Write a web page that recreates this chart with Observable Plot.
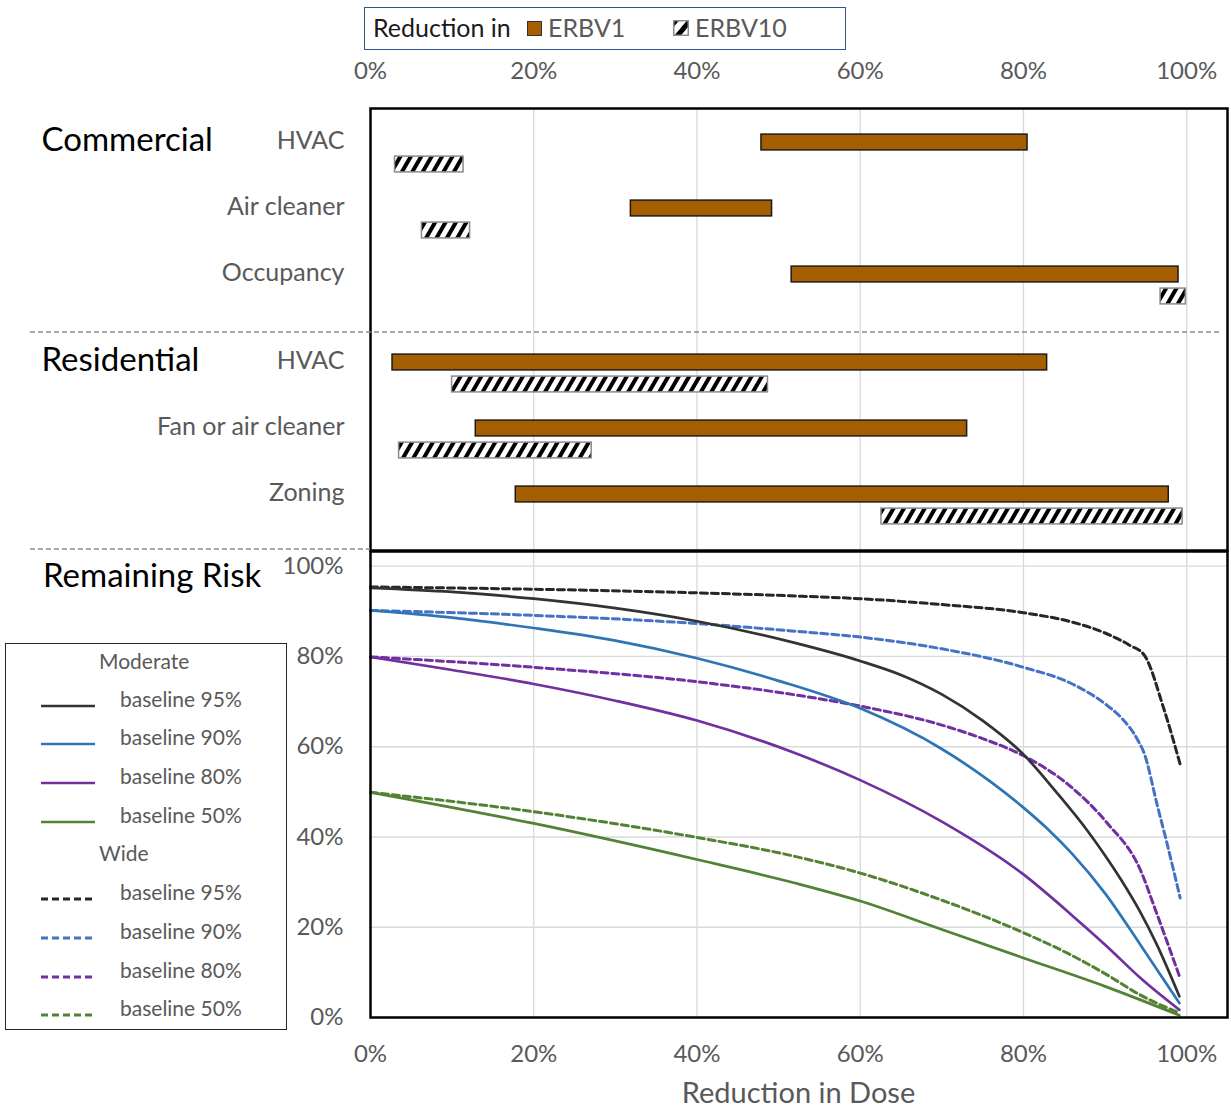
<!DOCTYPE html>
<html><head><meta charset="utf-8">
<script src="https://cdn.jsdelivr.net/npm/d3@7"></script>
<script src="https://cdn.jsdelivr.net/npm/@observablehq/plot@0.6"></script>
<style>
body{margin:0;background:#fff;}
#wrap{position:relative;width:1231px;height:1110px;font-family:Lato,"Open Sans",sans-serif;overflow:hidden;background:#fff;}
.abs{position:absolute;white-space:nowrap;line-height:1;}
#wrap svg.plotsvg{position:absolute;left:0;}
</style></head><body><div id="wrap"></div>
<script>
// ---------- data ----------
const xTicks = [0, 20, 40, 60, 80, 100];
const yTicks = [0, 20, 40, 60, 80, 100];
const sectionNames = ["Commercial", "Residential"];
const measures = ["HVAC", "Air cleaner", "Occupancy", "HVAC", "Fan or air cleaner", "Zoning"];
const measureSection = ["Commercial", "Commercial", "Commercial", "Residential", "Residential", "Residential"];
const erbv1Low   = [47.9, 31.9, 51.6,  2.7, 12.9, 17.8];
const erbv1High  = [80.5, 49.2, 99.0, 82.9, 73.1, 97.8];
const erbv10Low  = [ 3.0,  6.3, 96.8, 10.0,  3.5, 62.6];
const erbv10High = [11.4, 12.2, 99.9, 48.7, 27.1, 99.5];

// Remaining risk curves: [reduction in dose %, remaining risk %]
const moderate95 = [[0,95.2],[10,94.3],[20,92.8],[30,90.7],[40,87.8],[52,83.0],[60,79.0],[65,75.9],[70,71.6],[75,65.8],[80,58.3],[84,50.0],[88,41.0],[90,35.9],[92,30.4],[94.3,23.4],[96.3,16.3],[99.1,4.7]];
const moderate90 = [[0,90.2],[10,88.6],[20,86.3],[30,83.5],[40,79.6],[50,74.6],[60,68.5],[70,59.5],[76,52.2],[80,46.5],[83,41.7],[86,36.2],[90,27.5],[94.3,16.2],[99.1,3.2]];
const moderate80 = [[0,79.9],[10,77.0],[20,73.9],[30,70.2],[40,65.8],[52,58.6],[60,52.6],[70,43.4],[80,31.7],[86.1,22.4],[90.2,15.8],[94.3,8.8],[99.1,1.7]];
const moderate50 = [[0,49.9],[20,43.0],[40,35.0],[52,29.8],[60,25.8],[70,19.5],[80,13.2],[90,6.9],[99.1,0.5]];
const wide95 = [[0,95.4],[20,94.9],[40,94.1],[52,93.4],[60,92.8],[70,91.5],[80,89.7],[86,87.6],[90,85.2],[93,82.5],[94.8,80.3],[97.2,68.4],[99.2,56.1]];
const wide90 = [[0,90.2],[20,89.1],[40,87.3],[52,85.6],[60,84.3],[70,81.7],[80,77.6],[86,73.9],[90,69.5],[92,66.4],[94,61.5],[94.8,58.5],[96.4,47.0],[97.6,38.5],[99.2,26.5]];
const wide80 = [[0,79.9],[20,77.6],[40,74.4],[52,71.5],[60,69.0],[70,64.8],[75,61.8],[80,58.0],[85.7,51.3],[90.2,43.2],[94.3,32.8],[96.3,23.2],[99.2,8.7]];
const wide50 = [[0,49.9],[20,45.6],[40,39.9],[52,35.7],[60,32.0],[70,26.0],[80,18.8],[86.1,13.6],[90.2,9.5],[94.3,5.0],[99.1,1.0]];

const seriesLabels = ["baseline 95%", "baseline 90%", "baseline 80%", "baseline 50%"];
const moderateSeries = [moderate95, moderate90, moderate80, moderate50];
const wideSeries = [wide95, wide90, wide80, wide50];
const solidColors = ["#333333", "#2e75b6", "#7030a0", "#548235"];
const dashedColors = ["#262626", "#4472c4", "#7030a0", "#548235"];

// ---------- styles ----------
const FONT = "Lato, 'Open Sans', sans-serif";
const GRAY = "#595959";
const ORANGE = "#a65f00";
const DASH = "7,4";
const pct = d => d + "%";
const wrap = document.getElementById("wrap");

function hatchDefs(svgNode, id) {
  const defs = d3.select(svgNode).insert("defs", ":first-child");
  const p = defs.append("pattern").attr("id", id).attr("patternUnits", "userSpaceOnUse")
    .attr("width", 9).attr("height", 9).attr("patternTransform", "rotate(30)");
  p.append("rect").attr("width", 9).attr("height", 9).attr("fill", "#fff");
  p.append("rect").attr("width", 4).attr("height", 9).attr("fill", "#000");
}

// ---------- top panel (ranges) ----------
const bars1 = measures.map((m, i) => ({key: `${measureSection[i]}|${m}|ERBV1`, lo: erbv1Low[i], hi: erbv1High[i], measure: m}));
const bars10 = measures.map((m, i) => ({key: `${measureSection[i]}|${m}|ERBV10`, lo: erbv10Low[i], hi: erbv10High[i]}));
const rowDomain = [];
measures.forEach((m, i) => {
  rowDomain.push(bars1[i].key, bars10[i].key);
  if (i < measures.length - 1) {
    rowDomain.push(`gap${i}`);
    if (measureSection[i + 1] !== measureSection[i]) rowDomain.push(`sectiongap${i}`);
  }
});
const sectionRows = sectionNames.map(s => ({name: s, key: bars1[measureSection.indexOf(s)].key}));

const topPlot = Plot.plot({
  width: 1231, height: 552,
  marginLeft: 370, marginRight: 4, marginTop: 108, marginBottom: 2,
  style: {background: "transparent", fontFamily: FONT, overflow: "visible"},
  x: {domain: [0, 105]},
  y: {type: "band", domain: rowDomain, range: [129.4, 528.1], padding: 0, axis: null},
  marks: [
    Plot.ruleX([20, 40, 60, 80, 100], {stroke: "#d9d9d9", strokeWidth: 1.3}),
    Plot.barX(bars1, {x1: "lo", x2: "hi", y: "key", fill: ORANGE, stroke: "#1a1a1a", strokeWidth: 1.5, insetTop: 3.1, insetBottom: 3.1}),
    Plot.barX(bars10, {x1: "lo", x2: "hi", y: "key", fill: "url(#hatch)", stroke: "#8c8c8c", strokeWidth: 1.5, insetTop: 3.1, insetBottom: 3.1}),
    Plot.text(bars1, {x: 0, y: "key", text: "measure", textAnchor: "end", dx: -26, dy: -2, fontSize: 25, fill: GRAY}),
    Plot.text(sectionRows, {x: 0, y: "key", text: "name", textAnchor: "start", dx: -329, dy: -2, fontSize: 33, fill: "#000"}),
    Plot.frame({stroke: "#000", strokeWidth: 2.5}),
    Plot.axisX(xTicks, {anchor: "top", tickSize: 0, tickPadding: 30, tickFormat: pct, fontSize: 24, color: GRAY, label: null})
  ]
});
topPlot.classList.add("plotsvg");
topPlot.style.top = "0px";
hatchDefs(topPlot, "hatch");
wrap.appendChild(topPlot);

// ---------- bottom panel (curves) ----------
const toRows = pts => pts.map(([x, y]) => ({x, y}));
const lineMarks = [];
wideSeries.forEach((s, i) => lineMarks.push(Plot.line(toRows(s), {x: "x", y: "y", stroke: dashedColors[i], strokeWidth: 3, strokeDasharray: DASH, curve: "monotone-x"})));
moderateSeries.forEach((s, i) => lineMarks.push(Plot.line(toRows(s), {x: "x", y: "y", stroke: solidColors[i], strokeWidth: 2.7, curve: "monotone-x"})));

const bottomPlot = Plot.plot({
  width: 1231, height: 560,
  marginLeft: 370, marginRight: 4, marginTop: 1, marginBottom: 93,
  style: {background: "transparent", fontFamily: FONT, overflow: "visible"},
  x: {domain: [0, 105]},
  y: {domain: [0, 103.26]},
  marks: [
    Plot.ruleX([20, 40, 60, 80, 100], {stroke: "#d9d9d9", strokeWidth: 1.3}),
    Plot.ruleY([20, 40, 60, 80, 100], {stroke: "#d9d9d9", strokeWidth: 1.3}),
    ...lineMarks,
    Plot.frame({stroke: "#000", strokeWidth: 2.5}),
    Plot.axisY(yTicks, {anchor: "left", tickSize: 0, tickPadding: 27, tickFormat: pct, fontSize: 24, color: GRAY, label: null}),
    Plot.axisX(xTicks, {anchor: "bottom", tickSize: 0, tickPadding: 27, tickFormat: pct, fontSize: 24, color: GRAY, label: null})
  ]
});
bottomPlot.classList.add("plotsvg");
bottomPlot.style.top = "550px";
wrap.appendChild(bottomPlot);

// ---------- html decorations ----------
function addDiv(css, html) {
  const d = document.createElement("div");
  d.className = "abs";
  d.style.cssText = css;
  if (html != null) d.innerHTML = html;
  wrap.appendChild(d);
  return d;
}
function dashedRule(x1, x2, y) {
  addDiv(`left:${x1}px;top:${y - 2}px;`, `<svg width="${x2 - x1}" height="4" style="display:block"><line x1="0" x2="${x2 - x1}" y1="2" y2="2" stroke="#8c8c8c" stroke-width="1.4" stroke-dasharray="5,3"/></svg>`);
}
// dashed separators
dashedRule(30, 1220, 332);
dashedRule(30, 370, 549);
// titles
addDiv(`left:43px;top:558px;font-size:33px;color:#000;`, "Remaining Risk");
addDiv(`left:370px;width:857px;top:1077px;text-align:center;font-size:29px;color:${GRAY};`, "Reduction in Dose");

// top legend
addDiv("left:364px;top:7px;width:480px;height:41px;border:1.5px solid #2f5597;background:#fff;");
addDiv(`left:373px;top:15px;font-size:25px;color:#1a1a1a;`, "Reduction in");
addDiv(`left:527px;top:21px;width:13px;height:13px;background:${ORANGE};border:1px solid #333;`);
addDiv(`left:548px;top:15px;font-size:25px;color:${GRAY};`, "ERBV1");
addDiv(`left:673px;top:20px;`, `<svg width="16" height="16"><defs><pattern id="hatchL" patternUnits="userSpaceOnUse" width="11" height="11" patternTransform="rotate(40)"><rect width="11" height="11" fill="#fff"/><rect width="5" height="11" fill="#000"/></pattern></defs><rect x="0.75" y="0.75" width="14.5" height="14.5" fill="url(#hatchL)" stroke="#8c8c8c" stroke-width="1.5"/></svg>`);
addDiv(`left:695px;top:15px;font-size:25px;color:${GRAY};`, "ERBV10");

// bottom-left legend
addDiv("left:5px;top:643px;width:280px;height:385px;border:1.5px solid #262626;background:#fff;");
const legendRowsY = [700, 738, 777, 816];
const legendRowsY2 = [893, 932, 971, 1009];
addDiv(`left:99px;top:650px;font-size:21px;color:${GRAY};`, "Moderate");
addDiv(`left:99px;top:842px;font-size:21px;color:${GRAY};`, "Wide");
seriesLabels.forEach((lab, i) => {
  addDiv(`left:41px;top:${legendRowsY[i] - 4}px;`, `<svg width="56" height="8"><line x1="0" x2="54" y1="4" y2="4" stroke="${solidColors[i]}" stroke-width="2.7"/></svg>`);
  addDiv(`left:120px;top:${legendRowsY[i] - 12}px;font-size:21px;color:${GRAY};`, lab);
  addDiv(`left:41px;top:${legendRowsY2[i] - 4}px;`, `<svg width="56" height="8"><line x1="0" x2="54" y1="4" y2="4" stroke="${dashedColors[i]}" stroke-width="3" stroke-dasharray="${DASH}"/></svg>`);
  addDiv(`left:120px;top:${legendRowsY2[i] - 12}px;font-size:21px;color:${GRAY};`, lab);
});
</script></body></html>
